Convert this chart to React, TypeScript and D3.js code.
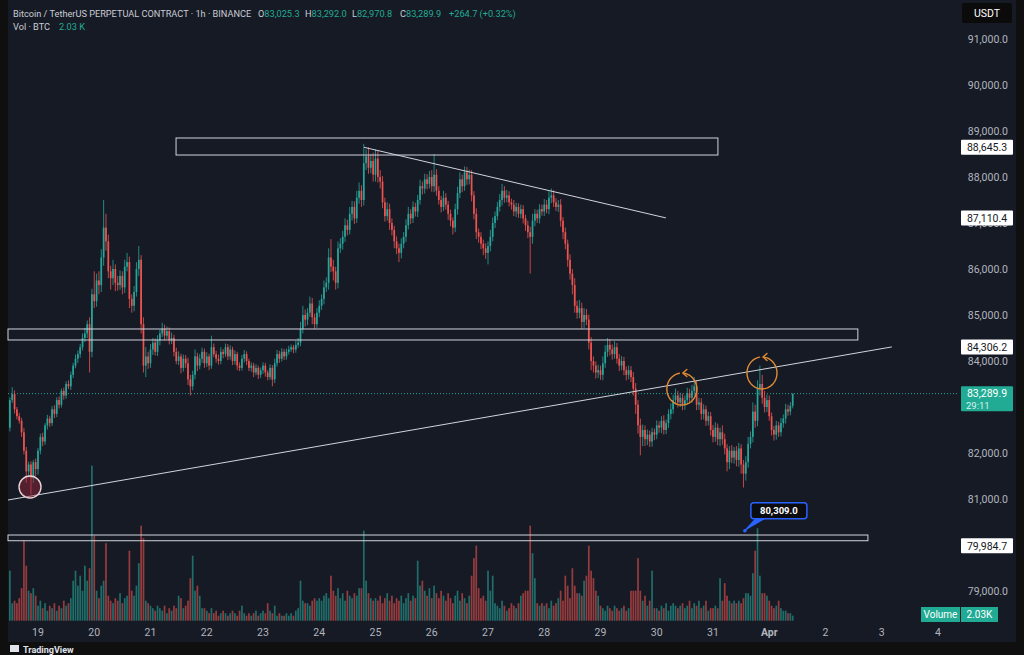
import * as d3 from "d3";

// hourly candles, first one is Mar 18 12:00, hour 0 = Mar 19 00:00
const FIRST_HOUR = -12;
const FIRST_OPEN = 82550;

const closes = [
  // Mar 18
  83150, 83280, 82950, 82800, 82700, 82450, 82050, 81600, 81750, 81450, 81800, 81650,
  // Mar 19
  82050, 82350, 82250, 82600, 82750, 82650, 82950, 82850, 83150, 83050, 83350, 83250,
  83500, 83450, 83700, 83900, 84050, 84150, 84300, 84500, 84600, 84800, 84200, 85450,
  // Mar 20
  85300, 85750, 85650, 86250, 86900, 86600, 85950, 85800, 86000, 85700, 85650, 85850,
  85600, 86050, 86150, 85350, 85200, 85500, 86000, 86200, 84800, 83900, 84100, 83950,
  // Mar 21
  84250, 84400, 84200, 84450, 84600, 84700, 84550, 84650, 84450, 84500, 84200, 84000,
  84100, 83850, 84050, 83950, 83600, 83450, 83700, 84100, 83900, 84050, 84200, 83950,
  // Mar 22
  84100, 83900, 84300, 84150, 84050, 84000, 84200, 84150, 84300, 84100, 84250, 84000,
  84150, 83900, 83850, 84050, 84150, 84000, 83850, 83900, 83750, 83850, 83700, 83800,
  // Mar 23
  83900, 83750, 83650, 83850, 83600, 83950, 84150, 84050, 84200, 84100, 84200, 84250,
  84300, 84250, 84350, 84400, 84700, 85000, 84900, 85050, 85250, 84950, 84800, 85050,
  // Mar 24
  85200, 85350, 85600, 85700, 86250, 86050, 85950, 85700, 86450, 86550, 86700, 86950,
  86850, 87200, 87350, 87100, 87550, 87700, 87500, 88300, 88450, 88200, 88350, 88050,
  // Mar 25
  88400, 88000, 87900, 87450, 87150, 87300, 87000, 86850, 86600, 86450, 86350, 86550,
  86700, 86950, 87200, 87100, 87350, 87250, 87500, 87800, 87750, 87950, 87850, 88000,
  // Mar 26
  87800, 88050, 87700, 87500, 87350, 87550, 87400, 87200, 87050, 86900, 87300, 87650,
  87950, 87800, 88100, 87950, 88050, 87600, 87200, 86800, 86700, 86550, 86450, 86350,
  // Mar 27
  86500, 86700, 87000, 87150, 87350, 87500, 87700, 87550, 87600, 87450, 87400, 87250,
  87350, 87200, 87300, 87100, 86950, 86800, 86700, 87050, 87200, 87100, 87300, 87250,
  // Mar 28
  87400, 87300, 87550, 87600, 87450, 87350, 87400, 87050, 86800, 86550, 86200, 85900,
  85650, 85200, 85050, 85150, 84850, 85000, 84900, 84400, 84000, 83900, 83750, 83800,
  // Mar 29
  83700, 83950, 84200, 84350, 84250, 84150, 84300, 84050, 83900, 84000, 83800, 83700,
  83800, 83650, 83400, 83050, 82600, 82350, 82500, 82300, 82400, 82250, 82450, 82400,
  // Mar 30
  82600, 82550, 82700, 82500, 82650, 82850, 82950, 83150, 83250, 83100, 83200, 83050,
  83150, 83300, 83200, 83350, 83450, 83050, 83100, 82850, 82950, 82700, 82800, 82500,
  // Mar 31
  82350, 82550, 82300, 82450, 82300, 82100, 81800, 82050, 81900, 82050, 81850, 82100,
  81750, 81550, 81800, 82200, 82350, 82900, 82700, 83400, 83500, 83200, 83000, 83150,
  // Apr 1
  82800, 82500, 82400, 82600, 82450, 82650, 82750, 82950, 82900, 83025.3, 83289.9,
];

// wick length above the body / below the body, USDT
const wickHi = [
  60, 150, 80, 50, 70, 60, 90, 80, 60, 70, 50, 80,
  60, 70, 90, 50, 80, 60, 70, 90, 60, 80, 50, 70, 60, 80, 70, 60, 90, 80, 70, 100, 120, 80, 150, 120,
  500, 150, 200, 180, 600, 300, 150, 120, 200, 100, 150, 120, 100, 150, 200, 120, 100, 130, 150, 300, 100, 150, 200, 100,
  120, 100, 90, 110, 80, 130, 90, 100, 80, 120, 70, 90, 110, 60, 90, 80, 120, 100, 90, 150, 80, 100, 90, 70,
  90, 60, 250, 80, 70, 90, 100, 60, 80, 70, 90, 60, 80, 50, 70, 80, 90, 60, 50, 70, 60, 80, 50, 60,
  70, 60, 50, 80, 60, 100, 90, 70, 80, 60, 70, 80, 60, 50, 90, 100, 150, 200, 120, 100, 150, 120, 80, 100,
  120, 100, 150, 120, 200, 400, 150, 100, 150, 120, 130, 150, 120, 150, 130, 120, 150, 180, 120, 420, 150, 200, 150, 180,
  200, 180, 150, 120, 100, 150, 120, 100, 90, 110, 100, 120, 100, 130, 150, 100, 120, 90, 110, 140, 100, 120, 110, 130,
  150, 450, 120, 100, 90, 150, 100, 80, 90, 70, 120, 140, 150, 100, 130, 120, 110, 100, 90, 120, 80, 100, 90, 110,
  100, 150, 120, 100, 110, 130, 150, 100, 120, 90, 80, 100, 90, 80, 100, 90, 80, 100, 120, 150, 100, 90, 110, 100,
  120, 100, 140, 150, 110, 90, 100, 120, 80, 100, 90, 120, 100, 150, 110, 180, 120, 150, 130, 110, 120, 100, 90, 120,
  100, 150, 140, 150, 120, 110, 130, 90, 100, 110, 90, 80, 100, 90, 110, 120, 100, 150, 120, 100, 110, 90, 100, 80,
  110, 90, 100, 120, 80, 100, 130, 120, 150, 100, 110, 90, 100, 120, 100, 130, 200, 120, 100, 90, 110, 80, 100, 90,
  110, 120, 90, 100, 150, 120, 90, 100, 120, 80, 100, 120, 90, 100, 130, 150, 120, 200, 150, 180, 400, 200, 150, 120,
  100, 80, 90, 100, 80, 110, 90, 120, 100, 80, 2.1,
];

const wickLo = [
  80, 60, 90, 70, 60, 100, 80, 250, 120, 350, 100, 150,
  120, 80, 100, 70, 90, 80, 60, 90, 70, 80, 60, 90, 70, 60, 80, 70, 60, 90, 80, 70, 90, 100, 450, 120,
  150, 120, 200, 150, 180, 200, 150, 250, 150, 180, 120, 100, 150, 120, 100, 200, 150, 120, 100, 150, 200, 150, 250, 120,
  100, 120, 80, 90, 110, 80, 100, 70, 90, 80, 100, 70, 90, 120, 80, 100, 120, 200, 90, 100, 120, 80, 90, 100,
  80, 100, 70, 60, 90, 80, 70, 90, 60, 80, 70, 90, 80, 100, 70, 60, 80, 90, 70, 80, 100, 60, 90, 70,
  80, 90, 70, 60, 150, 80, 70, 90, 60, 80, 70, 60, 50, 80, 70, 60, 80, 100, 150, 120, 90, 150, 100, 80,
  100, 90, 120, 100, 150, 120, 200, 150, 120, 100, 130, 110, 120, 100, 150, 120, 100, 130, 150, 120, 150, 130, 120, 150,
  150, 120, 150, 130, 120, 100, 150, 120, 150, 130, 200, 120, 100, 110, 90, 120, 100, 110, 120, 100, 130, 110, 120, 100,
  120, 130, 110, 100, 120, 90, 110, 130, 120, 150, 100, 120, 110, 130, 100, 120, 110, 130, 120, 150, 130, 120, 150, 130,
  250, 120, 100, 110, 90, 100, 120, 110, 100, 90, 110, 100, 120, 90, 100, 110, 120, 130, 800, 150, 120, 100, 110, 90,
  100, 90, 110, 120, 100, 90, 110, 130, 150, 120, 150, 130, 200, 150, 130, 120, 150, 130, 120, 150, 200, 150, 130, 120,
  110, 120, 100, 110, 130, 120, 100, 110, 120, 100, 110, 120, 100, 110, 150, 200, 180, 400, 200, 150, 130, 120, 110, 120,
  100, 110, 120, 100, 90, 110, 120, 100, 90, 110, 100, 120, 110, 90, 100, 110, 100, 120, 110, 130, 120, 110, 100, 120,
  120, 110, 130, 150, 120, 130, 200, 150, 120, 130, 140, 150, 200, 300, 150, 120, 100, 120, 150, 120, 150, 130, 120, 110,
  100, 120, 130, 110, 100, 90, 100, 110, 90, 80, 54.5,
];

// volume, thousands of BTC
const volumes = [
  20, 7, 8, 7, 9, 13, 32, 22, 12, 11, 13, 10,
  6, 8, 5, 7, 4, 6, 5, 7, 4, 6, 5, 8, 6, 7, 9, 16, 20, 14, 18, 12, 22, 16, 21, 62,
  34, 12, 9, 14, 16, 31, 10, 8, 7, 9, 8, 11, 7, 9, 10, 28, 12, 10, 14, 23, 38, 33, 8, 7,
  6, 5, 4, 6, 5, 4, 6, 3, 5, 4, 6, 5, 10, 9, 5, 6, 8, 17, 26, 12, 14, 10, 5, 5,
  4, 3, 5, 3, 4, 2, 3, 4, 3, 2, 3, 4, 3, 2, 4, 6, 3, 2, 3, 2, 3, 4, 2, 3,
  4, 3, 7, 4, 3, 6, 2, 3, 2, 2, 3, 2, 3, 2, 4, 5, 16, 8, 7, 7, 6, 8, 9, 8,
  9, 8, 10, 11, 9, 18, 12, 10, 13, 9, 11, 8, 12, 10, 9, 11, 10, 13, 13, 36, 16, 11, 9, 8,
  9, 8, 10, 7, 9, 11, 8, 10, 7, 9, 8, 10, 7, 9, 11, 8, 10, 9, 24, 14, 16, 12, 10, 13,
  9, 14, 11, 9, 12, 10, 8, 11, 9, 7, 10, 12, 8, 11, 9, 7, 10, 18, 25, 30, 13, 9, 10, 8,
  20, 12, 18, 7, 6, 5, 8, 6, 4, 5, 7, 6, 5, 7, 10, 11, 12, 12, 38, 27, 17, 7, 6, 7,
  6, 7, 5, 8, 6, 7, 9, 12, 8, 18, 14, 9, 21, 14, 11, 11, 10, 16, 18, 30, 20, 17, 12, 10,
  6, 5, 4, 6, 5, 4, 6, 5, 4, 5, 6, 4, 5, 12, 12, 12, 25, 12, 8, 10, 6, 8, 20, 5,
  5, 4, 6, 5, 7, 4, 6, 7, 6, 5, 6, 7, 5, 6, 8, 5, 7, 6, 8, 5, 6, 8, 4, 5,
  5, 6, 5, 17, 8, 15, 10, 8, 7, 8, 7, 8, 7, 9, 11, 11, 10, 19, 28, 37, 18, 11, 11, 10,
  8, 6, 5, 6, 8, 5, 4, 4, 3, 3, 2.03,
];

const priceTicks = [79000, 80000, 81000, 82000, 83000, 84000, 85000, 86000, 87000, 88000, 89000, 90000, 91000];
const dayLabels = ["19", "20", "21", "22", "23", "24", "25", "26", "27", "28", "29", "30", "31", "Apr", "2", "3", "4"];

// drawings, in hours from Mar 19 00:00 and price
const zones = [
  { h0: 58.9, h1: 290.1, top: 88848, bottom: 88478 },
  { h0: -12.8, h1: 349.8, top: 84696, bottom: 84457 },
  { h0: -12.8, h1: 354.1, top: 80217, bottom: 80093 },
];
const trendLines = [
  { h0: 139.1, p0: 88645.3, h1: 267.9, p1: 87110.4 },
  { h0: -12.8, p0: 80978, h1: 364.3, p1: 84306.2 },
];
const axisMarks = [88645.3, 87110.4, 84306.2, 79984.7];
const lastPrice = 83289.9;
const countdown = "29:11";
const lowMark = { h: -3.4, p: 81261 };
const orangeMarks = [
  { h: 274.7, p: 83390 },
  { h: 308.9, p: 83740 },
];
const callout = { h: 301.6, p: 80309.0 };

const UP = "#26a69a";
const DOWN = "#ef5350";
const BG = "#161a25";
const TEXT = "#b2b5be";
const FONT = "Roboto, 'Noto Sans', sans-serif";

export default function App() {
  const x = d3.scaleLinear().domain([0, 24 * 16]).range([38, 938]);
  const y = d3.scaleLinear().domain([79000, 91000]).range([591, 39]);
  const yv = d3.scaleLinear().domain([0, 62]).range([620.7, 465.7]);
  const fmt = d3.format(",.1f");
  const bodyW = 1.7;

  const candles = closes.map((c, i) => {
    const o = i === 0 ? FIRST_OPEN : closes[i - 1];
    return {
      h: FIRST_HOUR + i,
      o,
      c,
      hi: Math.max(o, c) + wickHi[i],
      lo: Math.min(o, c) - wickLo[i],
      v: volumes[i],
      up: c >= o,
    };
  });

  // hide tick labels sitting under a price marker
  const covered = (p: number) =>
    Math.abs(y(p) - y(lastPrice) - 5) < 9 || axisMarks.some((m) => Math.abs(y(p) - y(m)) < 3);

  const ellipse = (cx: number, cy: number, rx: number, ry: number) => {
    const p = d3.path();
    const a0 = -Math.PI / 2 + 0.15;
    p.moveTo(cx + rx * Math.cos(a0), cy + ry * Math.sin(a0));
    for (let k = 1; k <= 48; k++) {
      const a = a0 + (k / 48) * Math.PI * 1.9;
      p.lineTo(cx + rx * Math.cos(a), cy + ry * Math.sin(a));
    }
    return p.toString();
  };

  return (
    <svg width={1024} height={655} style={{ position: "absolute", left: 0, top: 0, display: "block" }}
      fontFamily={FONT}>
      <rect width={1024} height={655} fill="#0f0f10" />
      <rect x={8} y={0} width={1008} height={642} fill={BG} />
      <defs>
        <clipPath id="plot">
          <rect x={8} y={0} width={950} height={621} />
        </clipPath>
      </defs>

      {/* volume */}
      <g clipPath="url(#plot)">
        {candles.map((d, i) => (
          <rect key={"v" + i} x={x(d.h) - bodyW / 2} y={yv(d.v)} width={bodyW}
            height={yv(0) - yv(d.v)} fill={d.up ? UP : DOWN} fillOpacity={0.6} />
        ))}
      </g>

      {/* last price line */}
      <line x1={8} x2={958} y1={y(lastPrice)} y2={y(lastPrice)} stroke={UP} strokeWidth={1}
        strokeDasharray="1 2" />

      {/* candles */}
      <g clipPath="url(#plot)">
        {candles.map((d, i) => {
          const cx = x(d.h);
          const top = y(Math.max(d.o, d.c));
          const bot = y(Math.min(d.o, d.c));
          const col = d.up ? UP : DOWN;
          return (
            <g key={"c" + i}>
              <line x1={cx} x2={cx} y1={y(d.hi)} y2={y(d.lo)} stroke={col} strokeWidth={0.8} />
              <rect x={cx - bodyW / 2} y={top} width={bodyW} height={Math.max(bot - top, 0.8)} fill={col} />
            </g>
          );
        })}
      </g>

      {/* drawings */}
      <g fill="none" stroke="#d1d4dc" strokeWidth={1}>
        {zones.map((z, i) => (
          <rect key={"z" + i} x={x(z.h0)} y={y(z.top)} width={x(z.h1) - x(z.h0)}
            height={y(z.bottom) - y(z.top)} />
        ))}
        {trendLines.map((t, i) => (
          <line key={"t" + i} x1={x(t.h0)} y1={y(t.p0)} x2={x(t.h1)} y2={y(t.p1)} />
        ))}
      </g>
      <circle cx={x(lowMark.h)} cy={y(lowMark.p)} r={11} fill="rgba(160,40,60,0.45)"
        stroke="#e8d3d6" strokeWidth={1.4} />
      {orangeMarks.map((m, i) => {
        const cx = x(m.h);
        const cy = y(m.p);
        const rx = 15;
        const ry = 16;
        const tx = cx + 1;
        const ty = cy - ry;
        return (
          <g key={"o" + i} fill="none" stroke="#e08a34" strokeWidth={1.4} strokeLinecap="round">
            <path d={ellipse(cx, cy, rx, ry)} />
            <path d={`M${tx + 4},${ty - 3.5} L${tx},${ty} L${tx + 4},${ty + 3.5}`} />
          </g>
        );
      })}

      {/* callout */}
      {(() => {
        const ax = x(callout.h);
        const ay = y(callout.p);
        const bx = ax + 6;
        const by = ay - 28;
        return (
          <g>
            <path d={`M${ax},${ay} L${bx + 6},${by + 15} L${bx + 16},${by + 15}`} fill="#2962ff" stroke="#2962ff" strokeWidth={1.5} />
            <circle cx={ax} cy={ay} r={1.8} fill="#2962ff" />
            <rect x={bx} y={by} width={56} height={16} rx={3} fill="#0b0c10" stroke="#2962ff" strokeWidth={1.5} />
            <text x={bx + 28} y={by + 11.5} textAnchor="middle" fill="#ffffff" fontSize={9.5} fontWeight={700}>
              {fmt(callout.p)}
            </text>
          </g>
        );
      })()}

      {/* price axis */}
      {priceTicks.filter((p) => !covered(p)).map((p) => (
        <text key={p} x={1008} y={y(p) + 3.5} textAnchor="end" fill={TEXT} fontSize={10.5}>
          {fmt(p)}
        </text>
      ))}
      {axisMarks.map((p) => (
        <g key={p}>
          <rect x={961} y={y(p) - 7.5} width={52} height={15} fill="#ffffff" rx={1} />
          <text x={987} y={y(p) + 3.8} textAnchor="middle" fill="#131722" fontSize={10.5}>
            {fmt(p)}
          </text>
        </g>
      ))}
      <rect x={961} y={y(lastPrice) - 7.5} width={52} height={25} fill="#22ab94" rx={1} />
      <text x={987} y={y(lastPrice) + 3.5} textAnchor="middle" fill="#ffffff" fontSize={10.5}>
        {fmt(lastPrice)}
      </text>
      <text x={966} y={y(lastPrice) + 15} fill="#d8f2ee" fontSize={9.5}>{countdown}</text>

      <rect x={962} y={3} width={50} height={20} fill="#0b0b0b" rx={2} />
      <text x={987} y={17} textAnchor="middle" fill="#ffffff" fontSize={10.5}>USDT</text>

      <rect x={921} y={607} width={39} height={15} fill="#22ab94" />
      <rect x={961} y={607} width={37} height={15} fill="#22ab94" />
      <text x={940.5} y={618} textAnchor="middle" fill="#ffffff" fontSize={10}>Volume</text>
      <text x={979.5} y={618} textAnchor="middle" fill="#ffffff" fontSize={10}>2.03K</text>

      {/* time axis */}
      {dayLabels.map((d, i) => (
        <text key={d + i} x={x(i * 24)} y={636} textAnchor="middle" fill={TEXT} fontSize={10.5}
          fontWeight={d === "Apr" ? 700 : 400}>
          {d}
        </text>
      ))}

      {/* legend */}
      <text x={13} y={16.5} fontSize={9.2} fill="#c9ccd4">
        Bitcoin / TetherUS PERPETUAL CONTRACT · 1h · BINANCE
      </text>
      <text y={16.5} fontSize={9.2}>
        <tspan x={258} fill="#c9ccd4">O</tspan><tspan fill="#22ab94">83,025.3</tspan>
        <tspan x={305} fill="#c9ccd4">H</tspan><tspan fill="#22ab94">83,292.0</tspan>
        <tspan x={352} fill="#c9ccd4">L</tspan><tspan fill="#22ab94">82,970.8</tspan>
        <tspan x={400} fill="#c9ccd4">C</tspan><tspan fill="#22ab94">83,289.9</tspan>
        <tspan x={449} fill="#22ab94">+264.7 (+0.32%)</tspan>
      </text>
      <text x={13} y={29.5} fontSize={9.2} fill="#c9ccd4">Vol · BTC</text>
      <text x={59} y={29.5} fontSize={9.2} fill="#22ab94">2.03 K</text>

      {/* watermark strip */}
      <rect x={10} y={645} width={9} height={7} fill="#e0e3eb" />
      <text x={23} y={652.5} fontSize={9} fontWeight={700} fill="#e0e3eb">TradingView</text>
    </svg>
  );
}
